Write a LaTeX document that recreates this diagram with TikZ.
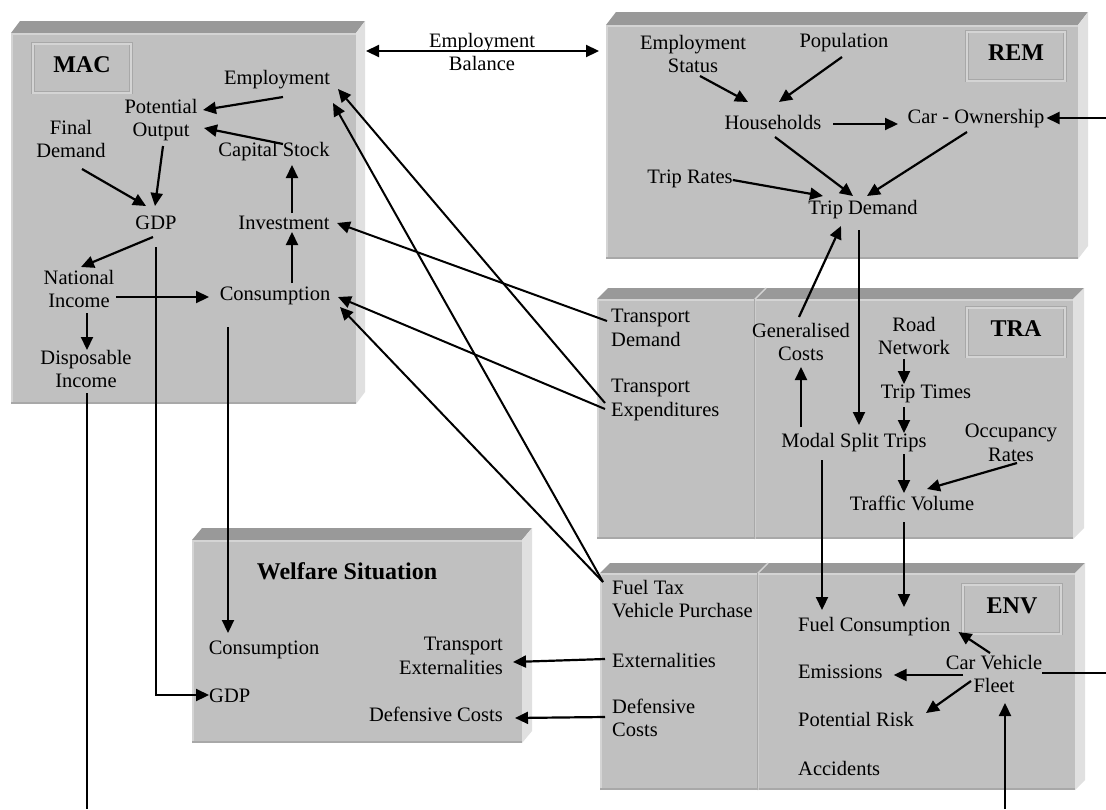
\documentclass[tikz,border=0pt]{standalone}
\usepackage{fontspec}
\setmainfont{Liberation Serif}
\usetikzlibrary{arrows.meta,calc}

\definecolor{facefront}{RGB}{192,192,192}
\definecolor{facetop}{RGB}{153,153,153}
\definecolor{faceside}{RGB}{224,224,224}
\definecolor{rimlight}{RGB}{212,212,212}
\definecolor{rimdark}{RGB}{168,168,168}

% raised slab: front corners (#1,#2)-(#3,#4), depth #5 to the right, #6 upwards
\newcommand\slabbox[6]{%
  \fill[facetop] (#1,#2) -- (#1+#5,#2-#6) -- (#3+#5,#2-#6) -- (#3,#2) -- cycle;
  \fill[faceside] (#3,#2) -- (#3+#5,#2-#6) -- (#3+#5,#4-#6) -- (#3,#4) -- cycle;
  \fill[facefront] (#1,#2) rectangle (#3,#4);
  \draw[rimlight, line width=1.5pt] (#1+1,#4) -- (#1+1,#2+1) -- (#3,#2+1);
  \draw[rimdark, line width=1.5pt] (#1,#4-1) -- (#3,#4-1);
}
% vertical partition of a slab at x=#1, between #2 and #3, depth #4/#5
\newcommand\slabsplit[5]{%
  \draw[rimlight, line width=1.4pt] (#1,#3) -- (#1,#2) -- (#1+#4,#2-#5);
  \draw[rimdark, line width=0.6pt] (#1-1.2,#3) -- (#1-1.2,#2);
}

\begin{document}
\begin{tikzpicture}[x=1pt,y=-1pt,
  txt/.style={font=\fontsize{20.5}{23.5}\selectfont, align=center, inner sep=0pt},
  txtl/.style={txt, align=left, anchor=west},
  txtr/.style={txt, align=right, anchor=east},
  tagbox/.style={fill=facefront, draw=rimdark, double=rimlight, double distance=2pt,
    line width=0.6pt, font=\fontsize{24}{28}\selectfont\bfseries,
    text height=16pt, text depth=8pt, inner sep=0pt,
    minimum width=98pt, minimum height=49pt},
  heading/.style={font=\fontsize{24}{28}\selectfont\bfseries, inner sep=0pt},
  tip/.tip={Triangle[length=13pt,width=12pt]},
  arr/.style={-tip, line width=2.2pt},
  wire/.style={-tip, line width=2pt},
  dbl/.style={tip-tip, line width=2.2pt},
  plain/.style={line width=2.2pt}]

\fill[white] (0,0) rectangle (1106,809);
\useasboundingbox (0,0) rectangle (1106,809);

% ---------- slabs ----------
\slabbox{11}{33}{356}{404}{9}{12}
\slabbox{606}{25}{1078}{259}{10}{13}
\slabbox{597}{299}{1073}{539}{11}{11}
\slabsplit{755}{299}{539}{11}{11}
\slabbox{600}{573}{1075}{790}{10}{10}
\slabsplit{758}{573}{790}{10}{10}
\slabbox{192}{540}{522}{743}{10}{12}

% ---------- module tags ----------
\node[tagbox] (mactag) at (82,68) {MAC};
\node[tagbox] (remtag) at (1016,56) {REM};
\node[tagbox] (tratag) at (1016,332) {TRA};
\node[tagbox] (envtag) at (1012,609) {ENV};
\node[heading] (welftitle) at (347,571) {Welfare Situation};

% ---------- MAC ----------
\node[txt] (emp) at (277,80) {Employment};
\node[txt] (potout) at (161,120) {Potential\\Output};
\node[txt] (fdem) at (71,139) {Final\\Demand};
\node[txt] (capst) at (274,152) {Capital Stock};
\node[txt] (gdp) at (156,223) {GDP};
\node[txt] (inv) at (284,223) {Investment};
\node[txt] (natinc) at (79,289) {National\\Income};
\node[txt] (cons) at (275,296) {Consumption};
\node[txt] (dispinc) at (86,369) {Disposable\\Income};

% ---------- Welfare ----------
\node[txt] (wcons) at (264,650) {Consumption};
\node[txtl] (wgdp) at (209,696) {GDP};
\node[txtr] (wext) at (503,656) {Transport\\Externalities};
\node[txtr] (wdef) at (503,714) {Defensive Costs};

% ---------- REM ----------
\node[txt] (empst) at (693,54) {Employment\\Status};
\node[txt] (pop) at (844,43) {Population};
\node[txt] (hh) at (773,122) {Households};
\node[txt] (carown) at (976,119) {Car - Ownership};
\node[txt] (triprates) at (690,179) {Trip Rates};
\node[txt] (tripdem) at (863,210) {Trip Demand};

% ---------- TRA ----------
\node[txtl] (tdem) at (611,328) {Transport\\Demand};
\node[txtl] (texp) at (611,400) {Transport\\Expenditures};
\node[txt] (gencost) at (801,342) {Generalised\\Costs};
\node[txt] (road) at (914,336) {Road\\Network};
\node[txt] (ttimes) at (926,394) {Trip Times};
\node[txt] (modal) at (854,443) {Modal Split Trips};
\node[txt] (occ) at (1011,443) {Occupancy\\Rates};
\node[txt] (traffic) at (912,503) {Traffic Volume};

% ---------- ENV ----------
\node[txtl] (fueltax) at (612,599) {Fuel Tax\\Vehicle Purchase};
\node[txtl] (ext) at (612,660) {Externalities};
\node[txtl] (defc) at (612,718) {Defensive\\Costs};
\node[txtl] (fuelc) at (798,627) {Fuel Consumption};
\node[txtl] (emis) at (798,672) {Emissions};
\node[txtl] (prisk) at (798,719) {Potential Risk};
\node[txtl] (acc) at (798,768) {Accidents};
\node[txt] (fleet) at (994,674) {Car Vehicle\\Fleet};

% ---------- free ends ----------
\node[txt] (empbal) at (482,52) {Employment\\Balance};
\coordinate (macside) at (366,51);
\coordinate (remside) at (599,51);
\coordinate (dispout) at (87,809);
\coordinate (fleetin) at (1005,809);
\coordinate (fleetout) at (1106,673);
\coordinate (carin) at (1106,118);

% ---------- connectors: MAC ----------
\draw[arr] ($(emp)+(6,17)$) -- ($(potout)+(42,-10)$);
\draw[arr] ($(capst)+(9,-8)$) -- ($(potout)+(43,8)$);
\draw[arr] ($(fdem)+(11,30)$) -- ($(gdp)+(-10,-17)$);
\draw[arr] ($(potout)+(2,26)$) -- ($(gdp)+(-1,-17)$);
\draw[arr] ($(inv)+(8,-10)$) -- ($(capst)+(18,13)$);
\draw[arr] ($(cons)+(17,-13)$) -- ($(inv)+(8,9)$);
\draw[arr] ($(gdp)+(-3,14)$) -- ($(natinc)+(2,-22)$);
\draw[arr] ($(natinc)+(37,8)$) -- ($(cons)+(-66,1)$);
\draw[arr] ($(natinc)+(8,24)$) -- ($(dispinc)+(1,-19)$);
\draw[arr] ($(gdp)+(0,24)$) |- ($(wgdp.west)+(0,-1)$);
\draw[arr] ($(cons)+(-47,31)$) -- ($(wcons)+(-36,-17)$);
\draw[plain] ($(dispinc)+(1,24)$) -- (dispout);

% ---------- connectors: MAC <-> REM ----------
\draw[dbl] (macside) -- (remside);

% ---------- connectors: TRA/ENV -> MAC ----------
\draw[wire] ($(tdem.west)+(-4,-7)$) -- ($(inv)+(53,0)$);
\draw[wire] ($(texp.west)+(-6,3)$) -- ($(emp)+(61,9)$);
\draw[wire] ($(texp.west)+(-6,9)$) -- ($(cons)+(63,1)$);
\draw[wire] ($(fueltax.west)+(-9,-17)$) -- ($(emp)+(56,23)$);
\draw[wire] ($(fueltax.west)+(-9,-17)$) -- ($(cons)+(65,11)$);

% ---------- connectors: ENV -> Welfare ----------
\draw[arr] ($(ext.west)+(-7,-1)$) -- ($(wext.east)+(10,6)$);
\draw[arr] ($(defc.west)+(-7,-1)$) -- ($(wdef.east)+(12,4)$);

% ---------- connectors: REM ----------
\draw[arr] ($(empst)+(7,22)$) -- ($(hh)+(-25,-20)$);
\draw[arr] ($(pop)+(-2,14)$) -- ($(hh)+(6,-20)$);
\draw[arr] ($(hh)+(60,2)$) -- ($(carown)+(-78,5)$);
\draw[arr] ($(hh)+(2,15)$) -- ($(tripdem)+(-10,-14)$);
\draw[arr] ($(carown)+(-9,13)$) -- ($(tripdem)+(4,-14)$);
\draw[arr] ($(triprates.east)+(0,1)$) -- ($(tripdem)+(-40,-14)$);
\draw[arr] (carin) -- ($(carown.east)+(2,-1)$);

% ---------- connectors: REM <-> TRA ----------
\draw[arr] ($(tripdem)+(-4,20)$) -- ($(modal)+(5,-18)$);
\draw[arr] ($(gencost)+(-2,-25)$) -- ($(tripdem)+(-22,16)$);

% ---------- connectors: TRA ----------
\draw[arr] ($(road)+(-10,23)$) -- ($(ttimes)+(-22,-10)$);
\draw[arr] ($(ttimes)+(-22,13)$) -- ($(modal)+(50,-10)$);
\draw[arr] ($(modal)+(50,11)$) -- ($(traffic)+(-8,-10)$);
\draw[arr] ($(occ)+(6,20)$) -- ($(traffic)+(15,-14)$);
\draw[arr] ($(modal)+(-53,-16)$) -- ($(gencost)+(0,25)$);

% ---------- connectors: TRA -> ENV ----------
\draw[arr] ($(modal)+(-32,17)$) -- ($(fuelc.west)+(24,-17)$);
\draw[arr] ($(traffic)+(-8,19)$) -- ($(fuelc.west)+(106,-20)$);

% ---------- connectors: ENV ----------
\draw[arr] ($(fleet)+(-4,-21)$) -- ($(fuelc.east)+(8,5)$);
\draw[arr] ($(fleet)+(-31,1)$) -- ($(emis.east)+(11,3)$);
\draw[arr] ($(fleet)+(-23,7)$) -- ($(prisk.east)+(12,-6)$);
\draw[arr] (fleetin) -- ($(fleet)+(11,29)$);
\draw[plain] ($(fleet.east)+(0,-1)$) -- (fleetout);

\end{tikzpicture}
\end{document}
